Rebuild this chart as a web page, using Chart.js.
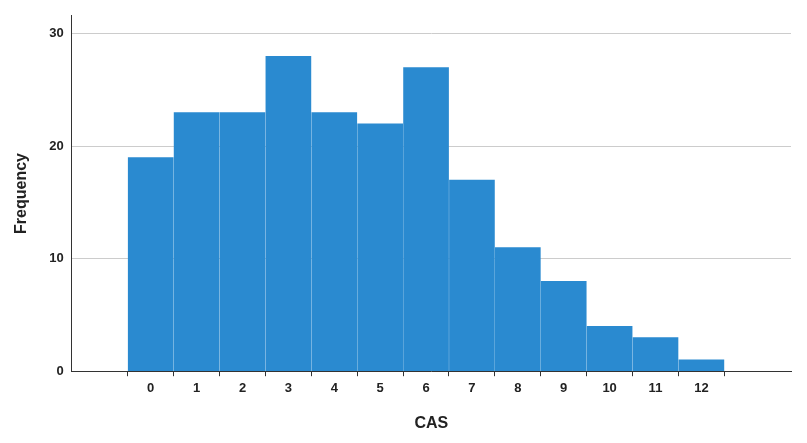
<!DOCTYPE html>
<html>
<head>
<script src="https://cdn.jsdelivr.net/npm/chart.js@4"></script>
<style>
  body { margin: 0; background: #fff; }
  #wrap { width: 807px; height: 443px; }
</style>
</head>
<body>
<div id="wrap"><canvas id="histCAS"></canvas></div>
<script>
const casScores = [0, 1, 2, 3, 4, 5, 6, 7, 8, 9, 10, 11, 12];
const frequencies = [19, 23, 23, 28, 23, 22, 27, 17, 11, 8, 4, 3, 1];
const yTicks = [0, 10, 20, 30];

const ctx = document.getElementById('histCAS').getContext('2d');
new Chart(ctx, {
    type: 'bar',
    data: {
        datasets: [{
            label: 'Frequency',
            data: casScores.map((c, i) => ({ x: c, y: frequencies[i] })),
            backgroundColor: '#2a8ad0',
            barThickness: 45
        }]
    },
    options: {
        responsive: true,
        maintainAspectRatio: false,
        animation: false,
        layout: { padding: { top: 8, right: 16, left: 8, bottom: 6 } },
        plugins: { legend: { display: false }, tooltip: { enabled: false } },
        font: { family: 'Arial' },
        scales: {
            x: {
                type: 'linear',
                min: -1.12,
                max: 13.35,
                afterBuildTicks: axis => { axis.ticks = casScores.map(v => ({ value: v })); },
                ticks: { color: '#222', font: { family: 'Liberation Sans', size: 13, weight: 'bold' }, padding: 4 },
                grid: { drawOnChartArea: false, color: '#333', tickLength: 5 },
                border: { color: '#333' },
                title: { display: true, text: 'CAS', color: '#222', font: { family: 'Liberation Sans', size: 16, weight: 'bold' }, padding: { top: 14 } }
            },
            y: {
                min: 0,
                max: 31.6,
                afterBuildTicks: axis => { axis.ticks = yTicks.map(v => ({ value: v })); },
                ticks: { color: '#222', font: { family: 'Liberation Sans', size: 13, weight: 'bold' }, padding: 8 },
                grid: { color: '#cccccc', drawTicks: false },
                border: { color: '#333' },
                title: { display: true, text: 'Frequency', color: '#222', font: { family: 'Liberation Sans', size: 16, weight: 'bold' }, padding: { bottom: 10 } }
            }
        }
    }
});
</script>
</body>
</html>
